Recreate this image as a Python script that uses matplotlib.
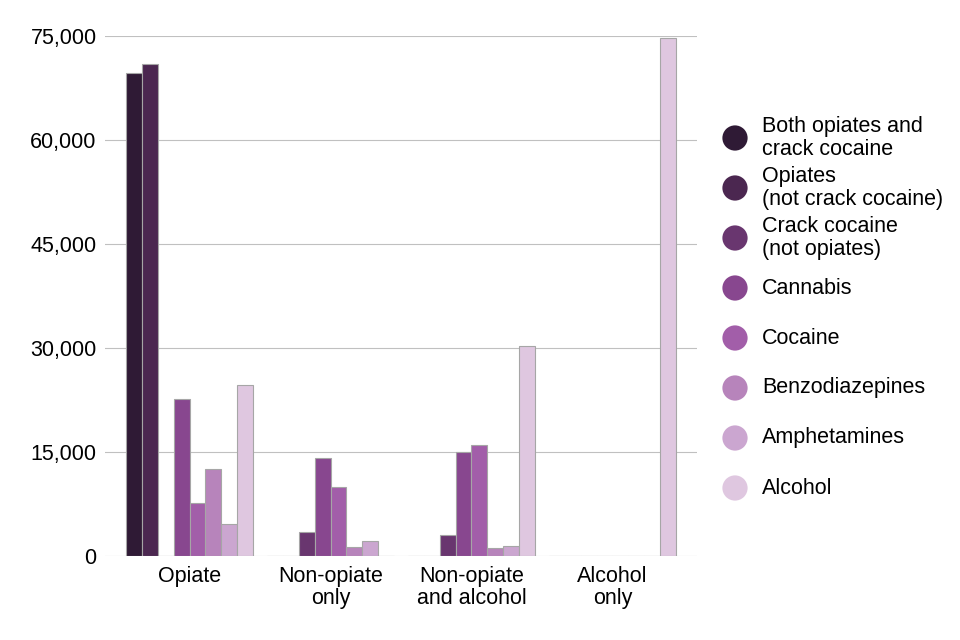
import matplotlib
matplotlib.use("Agg")
import matplotlib.pyplot as plt
import numpy as np

plt.rcParams["font.family"] = ["Liberation Sans", "DejaVu Sans"]

groups = ["Opiate", "Non-opiate\nonly", "Non-opiate\nand alcohol", "Alcohol\nonly"]
substances = [
    "Both opiates and\ncrack cocaine",
    "Opiates\n(not crack cocaine)",
    "Crack cocaine\n(not opiates)",
    "Cannabis",
    "Cocaine",
    "Benzodiazepines",
    "Amphetamines",
    "Alcohol",
]
colors = ["#2f1a35", "#4b2750", "#69366f", "#88478f",
          "#a25ea9", "#b784bb", "#cba6d0", "#dfc7e0"]

# values per substance, one per group (Opiate, Non-opiate only, Non-opiate and alcohol, Alcohol only)
both_opiates_crack = [69600, 0, 0, 0]
opiates_not_crack = [71000, 0, 0, 0]
crack_not_opiates = [0, 3400, 3000, 0]
cannabis = [22600, 14100, 15000, 0]
cocaine = [7600, 9900, 16000, 0]
benzodiazepines = [12500, 1350, 1100, 0]
amphetamines = [4600, 2200, 1400, 0]
alcohol = [24600, 0, 30300, 74700]

series = [both_opiates_crack, opiates_not_crack, crack_not_opiates, cannabis,
          cocaine, benzodiazepines, amphetamines, alcohol]

fig = plt.figure(figsize=(9.6, 6.4), dpi=100)
ax = fig.add_axes([105 / 960, 1 - 556 / 640, 592 / 960, 520 / 640])

x = np.arange(len(groups))
width = 0.1128
for i, vals in enumerate(series):
    offset = (i - 3.5) * width
    ax.bar(x + offset, vals, width, color=colors[i], edgecolor="#a6a6a6",
           linewidth=0.8, zorder=3)

ax.set_xlim(-0.6, 3.6)
ax.set_ylim(0, 75000)
ax.set_yticks(np.arange(0, 75001, 15000))
ax.set_yticklabels([f"{v:,}" for v in range(0, 75001, 15000)])
ax.set_xticks(x)
ax.set_xticklabels(groups, linespacing=1.08)
ax.tick_params(axis="both", length=0, labelsize=15.5)
ax.tick_params(axis="x", pad=7)
ax.tick_params(axis="y", pad=6)
ax.grid(axis="y", color="#c0c0c0", linewidth=0.8, zorder=0)
for s in ax.spines.values():
    s.set_visible(False)

# legend drawn in pixel coordinates
lg = fig.add_axes([0, 0, 1, 1])
lg.set_xlim(0, 960)
lg.set_ylim(640, 0)
lg.axis("off")
for i, name in enumerate(substances):
    yy = 138 + 50 * i
    lg.scatter([735], [yy], s=330, color=colors[i], edgecolors="none")
    lg.text(762, yy, name, va="center", ha="left", fontsize=15.5, linespacing=1.08)

fig.savefig("out.png", dpi=100)
